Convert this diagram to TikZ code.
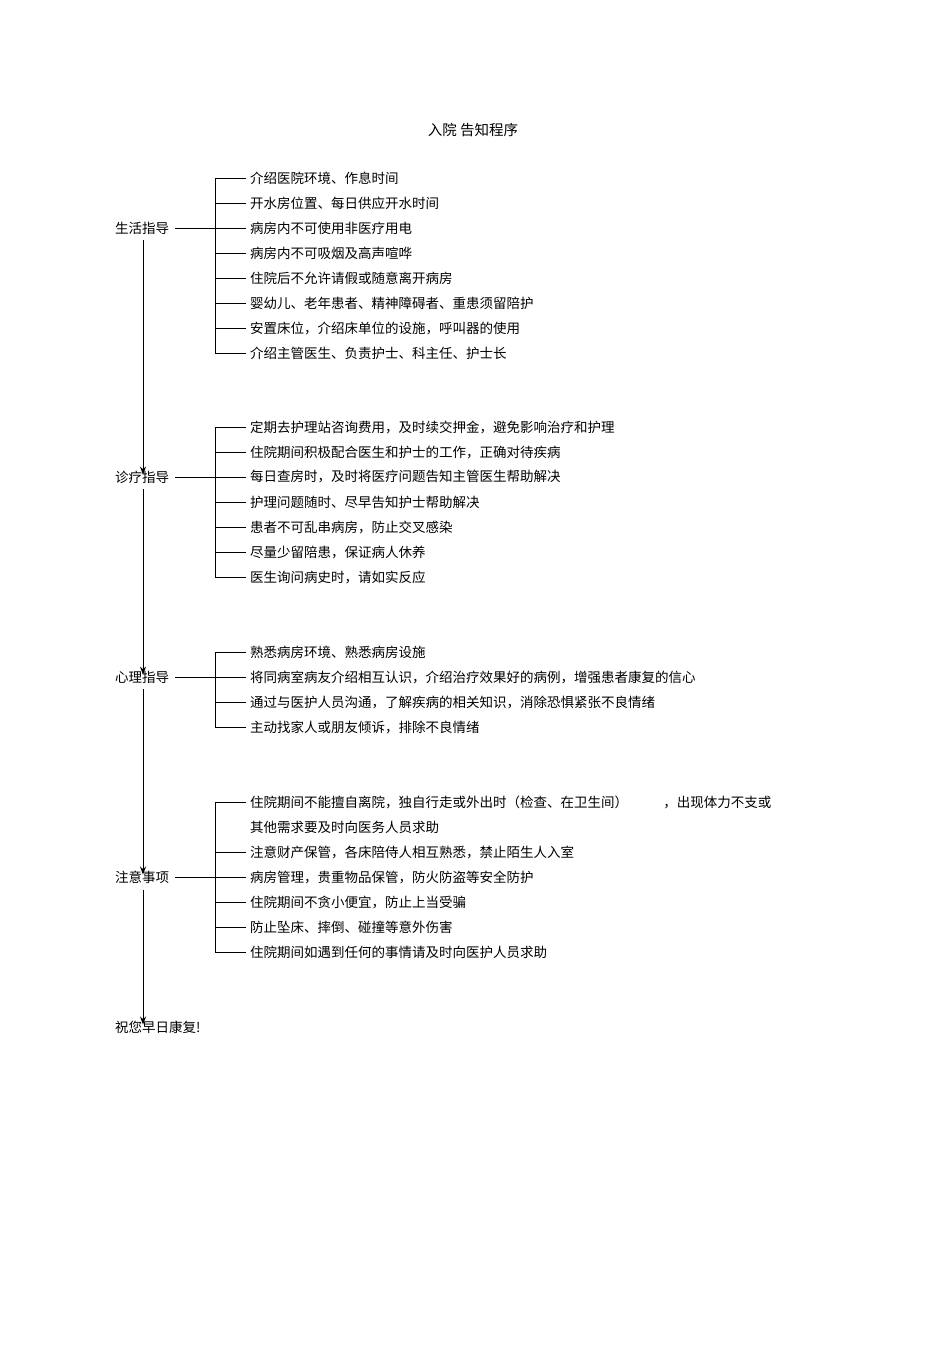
\documentclass[tikz,border=0pt]{standalone}
\usepackage{fontspec}
\setmainfont{Noto Sans CJK SC}
\usetikzlibrary{arrows.meta}
\begin{document}
\begin{tikzpicture}[x=1pt,y=-1pt,
  lab/.style={anchor=west,inner sep=0pt,font=\fontsize{13.5}{15}\selectfont},
  it/.style={anchor=west,inner sep=0pt,font=\fontsize{13.5}{15}\selectfont},
  ln/.style={line width=0.8pt},
  arr/.style={line width=1pt,-{Stealth[length=8pt,width=6pt]}}]
\useasboundingbox (0,0) rectangle (950,1345);
\node[inner sep=0pt,font=\fontsize{14.5}{16}\selectfont] (title) at (473,130) {入院 告知程序};
\node[lab] (s1) at (115,228) {生活指导};
\node[lab] (s2) at (115,477) {诊疗指导};
\node[lab] (s3) at (115,677) {心理指导};
\node[lab] (s4) at (115,877) {注意事项};
\node[lab] (s5) at (115,1027) {祝您早日康复!};
\foreach \a/\b in {s1/s2,s2/s3,s3/s4,s4/s5}
  \draw[arr] (\a.south -| 143,0) ++(0,6) -- ([yshift=-4pt]\b.north -| 143,0);
% section 1
\foreach \t [count=\i] in {介绍医院环境、作息时间,开水房位置、每日供应开水时间,病房内不可使用非医疗用电,病房内不可吸烟及高声喧哗,住院后不允许请假或随意离开病房,婴幼儿、老年患者、精神障碍者、重患须留陪护,{安置床位，介绍床单位的设施，呼叫器的使用},介绍主管医生、负责护士、科主任、护士长}{
  \node[it] (a\i) at (250,{153+25*\i}) {\t};
  \draw[ln] (215,{153+25*\i}) -- ([xshift=-4pt]a\i.west);}
\draw[ln] (215,178) -- (215,353);
\draw[ln] ([xshift=6pt]s1.east) -- (215,228);
% section 2
\foreach \t [count=\i] in {{定期去护理站咨询费用，及时续交押金，避免影响治疗和护理},{住院期间积极配合医生和护士的工作，正确对待疾病},{每日查房时，及时将医疗问题告知主管医生帮助解决},护理问题随时、尽早告知护士帮助解决,{患者不可乱串病房，防止交叉感染},{尽量少留陪患，保证病人休养},{医生询问病史时，请如实反应}}{
  \node[it] (b\i) at (250,{402+25*\i}) {\t};
  \draw[ln] (215,{402+25*\i}) -- ([xshift=-4pt]b\i.west);}
\draw[ln] (215,427) -- (215,577);
\draw[ln] ([xshift=6pt]s2.east) -- (215,477);
% section 3
\foreach \t [count=\i] in {熟悉病房环境、熟悉病房设施,{将同病室病友介绍相互认识，介绍治疗效果好的病例，增强患者康复的信心},{通过与医护人员沟通，了解疾病的相关知识，消除恐惧紧张不良情绪},{主动找家人或朋友倾诉，排除不良情绪}}{
  \node[it] (c\i) at (250,{627+25*\i}) {\t};
  \draw[ln] (215,{627+25*\i}) -- ([xshift=-4pt]c\i.west);}
\draw[ln] (215,652) -- (215,727);
\draw[ln] ([xshift=6pt]s3.east) -- (215,677);
% section 4
\node[it] (d1) at (250,802) {住院期间不能擅自离院，独自行走或外出时（检查、在卫生间）\hspace{2.6em}，出现体力不支或};
\node[it] (d1b) at (250,827) {其他需求要及时向医务人员求助};
\draw[ln] (215,802) -- ([xshift=-4pt]d1.west);
\foreach \t [count=\i] in {{注意财产保管，各床陪侍人相互熟悉，禁止陌生人入室},{病房管理，贵重物品保管，防火防盗等安全防护},{住院期间不贪小便宜，防止上当受骗},防止坠床、摔倒、碰撞等意外伤害,住院期间如遇到任何的事情请及时向医护人员求助}{
  \node[it] (e\i) at (250,{827+25*\i}) {\t};
  \draw[ln] (215,{827+25*\i}) -- ([xshift=-4pt]e\i.west);}
\draw[ln] (215,802) -- (215,952);
\draw[ln] ([xshift=6pt]s4.east) -- (215,877);
\end{tikzpicture}
\end{document}
